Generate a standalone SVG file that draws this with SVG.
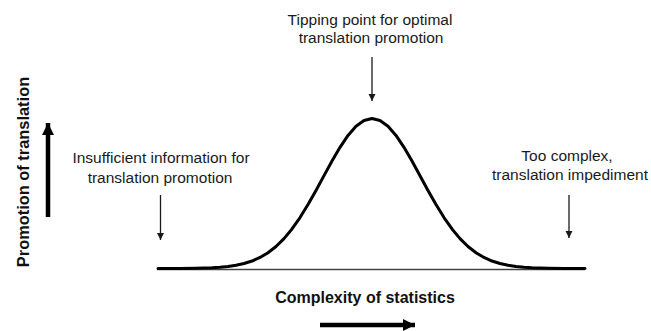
<svg xmlns="http://www.w3.org/2000/svg" width="651" height="331" viewBox="0 0 651 331">
  <style>
    .lbl { font-family: "Liberation Sans", Arial, sans-serif; font-size: 15.5px; fill: #1a1a1a; text-anchor: middle; }
    .axis { font-family: "Liberation Sans", Arial, sans-serif; font-size: 16px; font-weight: bold; fill: #111; text-anchor: middle; }
    .thin { stroke: #1a1a1a; stroke-width: 1.3; fill: none; }
    .thick { stroke: #000; stroke-width: 4.5; fill: none; }
    .curve { stroke: #000; stroke-width: 3; fill: none; stroke-linejoin: round; stroke-linecap: round; }
    .base { stroke: #444; stroke-width: 1.5; }
  </style>
  <defs>
    <marker id="headThin" markerUnits="userSpaceOnUse" markerWidth="8" markerHeight="8" refX="7" refY="3.5" orient="auto">
      <path d="M0,0 L7,3.5 L0,7 z" fill="#1a1a1a"/>
    </marker>
    <marker id="headThick" markerUnits="userSpaceOnUse" markerWidth="13" markerHeight="13" refX="12" refY="6" orient="auto">
      <path d="M0,0 L12,6 L0,12 z" fill="#000"/>
    </marker>
  </defs>
  <rect width="651" height="331" fill="#fff"/>

  <!-- horizontal axis line under the curve -->
  <line class="base" x1="157" y1="269.5" x2="585" y2="269.5"/>

  <!-- bell curve (gaussian, centre 372, sigma 49) -->
  <polyline class="curve" points="158,268.5 180,268.43 196,268.26 212,267.77 220,267.28 228,266.5 236,265.31 244,263.55 252,261.02 260,257.49 268,252.73 276,246.49 284,238.6 292,228.94 300,217.54 308,204.58 316,190.44 324,175.66 332,161 340,147.31 348,135.45 356,126.29 364,120.49 372,118.5 380,120.49 388,126.29 396,135.45 404,147.31 412,161 420,175.66 428,190.44 436,204.58 444,217.54 452,228.94 460,238.6 468,246.49 476,252.73 484,257.49 492,261.02 500,263.55 508,265.31 516,266.5 524,267.28 532,267.77 548,268.26 564,268.43 585,268.5"/>

  <g id="connectors">
    <line class="thin" x1="372" y1="57" x2="372" y2="101" marker-end="url(#headThin)"/>
    <line class="thin" x1="160.5" y1="195" x2="160.5" y2="240" marker-end="url(#headThin)"/>
    <line class="thin" x1="569" y1="195" x2="569" y2="238" marker-end="url(#headThin)"/>
    <line class="thick" x1="48" y1="217" x2="48" y2="123" marker-end="url(#headThick)"/>
    <line class="thick" x1="320" y1="325" x2="415" y2="325" marker-end="url(#headThick)"/>
  </g>

  <g id="tipping-point">
    <text class="lbl" x="370" y="25">Tipping point for optimal</text>
    <text class="lbl" x="371" y="43">translation promotion</text>
  </g>

  <g id="insufficient">
    <text class="lbl" x="161" y="163">Insufficient information for</text>
    <text class="lbl" x="160" y="183">translation promotion</text>
  </g>

  <g id="too-complex">
    <text class="lbl" x="567" y="161">Too complex,</text>
    <text class="lbl" x="570" y="180">translation impediment</text>
  </g>

  <g id="x-axis-label">
    <text class="axis" x="365" y="303">Complexity of statistics</text>
  </g>

  <g id="y-axis-label">
    <text class="axis" style="font-size:16.4px" transform="translate(28.5,172) rotate(-90)">Promotion of translation</text>
  </g>
</svg>
